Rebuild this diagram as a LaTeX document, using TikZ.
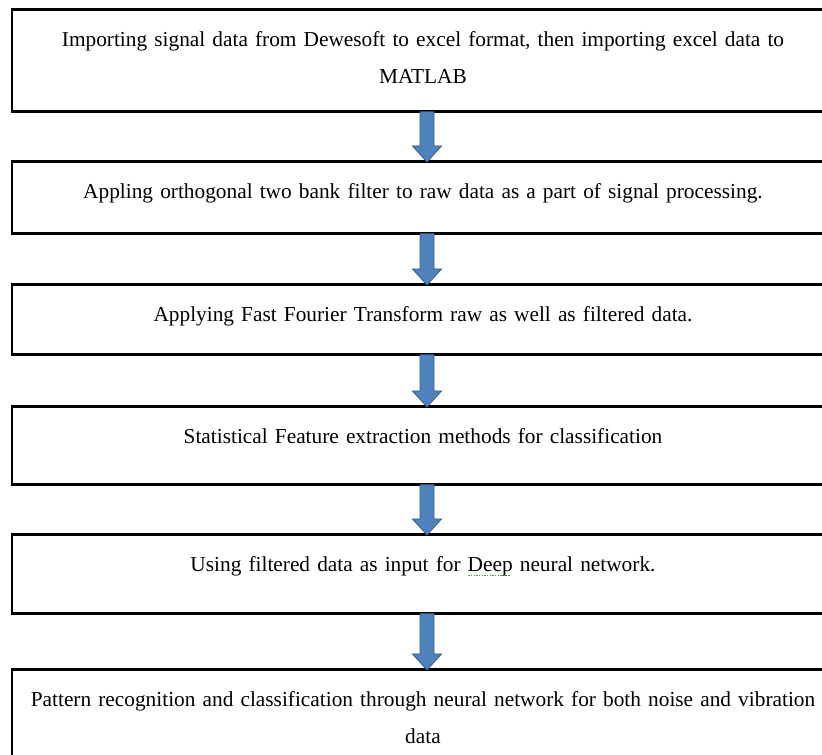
\documentclass[tikz,border=0pt]{standalone}
\usepackage{fontspec}
\setmainfont{Liberation Serif}
\usepackage{tikz}
\usetikzlibrary{calc}
\definecolor{ArrowFill}{RGB}{79,129,189}
\definecolor{ArrowBorder}{RGB}{56,93,138}
\definecolor{SpellGreen}{RGB}{60,160,60}
% dotted spell-check mark under a word
\newcommand{\spellmark}[1]{%
  \setbox0\hbox{#1}%
  \rlap{\raisebox{-3.5pt}{\textcolor{SpellGreen}{\leaders\hbox to 2pt{\hss\rule{1pt}{1pt}\hss}\hskip\wd0}}}%
  \box0\relax}
\tikzset{
  % process step box
  stepbox/.style={
    rectangle,
    draw=black,
    line width=2pt,
    anchor=north,
    minimum width=616.5pt,
    text width=600pt,
    align=center,
    inner sep=0pt,
    text height=27.75pt,
    font=\fontsize{16}{27.75}\selectfont
  },
  % blue block arrow between steps
  blockarrow/.style={
    fill=ArrowFill,
    draw=ArrowBorder,
    line width=0.6pt,
    line join=miter
  }
}

\begin{document}
\begin{tikzpicture}[x=0.75pt, y=-0.75pt]
  \clip (0,0) rectangle (822,755);
  \node[stepbox, text depth=48.75pt] (s1) at (423,8)
    {Importing signal data from Dewesoft to excel format, then importing excel data to\\ MATLAB};
  \node[stepbox, text depth=26.25pt] (s2) at (423,160)
    {Appling orthogonal two bank filter to raw data as a part of signal processing.};
  \node[stepbox, text depth=24.75pt] (s3) at (423,283)
    {Applying Fast Fourier Transform raw as well as filtered data.};
  \node[stepbox, text depth=30.75pt] (s4) at (423,405)
    {Statistical Feature extraction methods for classification};
  \node[stepbox, text depth=31.5pt] (s5) at (423,533)
    {Using filtered data as input for \spellmark{Deep} neural network.};
  \node[stepbox, text depth=60pt] (s6) at (423,668)
    {Pattern recognition and classification through neural network for both noise and vibration\\ data};
  % arrows between the steps
  \foreach \a/\b in {s1/s2, s2/s3, s3/s4, s4/s5, s5/s6} {
    \filldraw[blockarrow] ($(\a.south)+(-3,-1)$) -- ($(\a.south)+(11,-1)$)
      -- ($(\b.north)+(11,-14)$) -- ($(\b.north)+(18.5,-14)$)
      -- ($(\b.north)+(4,2)$)
      -- ($(\b.north)+(-10.5,-14)$) -- ($(\b.north)+(-3,-14)$) -- cycle;
  }
\end{tikzpicture}
\end{document}
